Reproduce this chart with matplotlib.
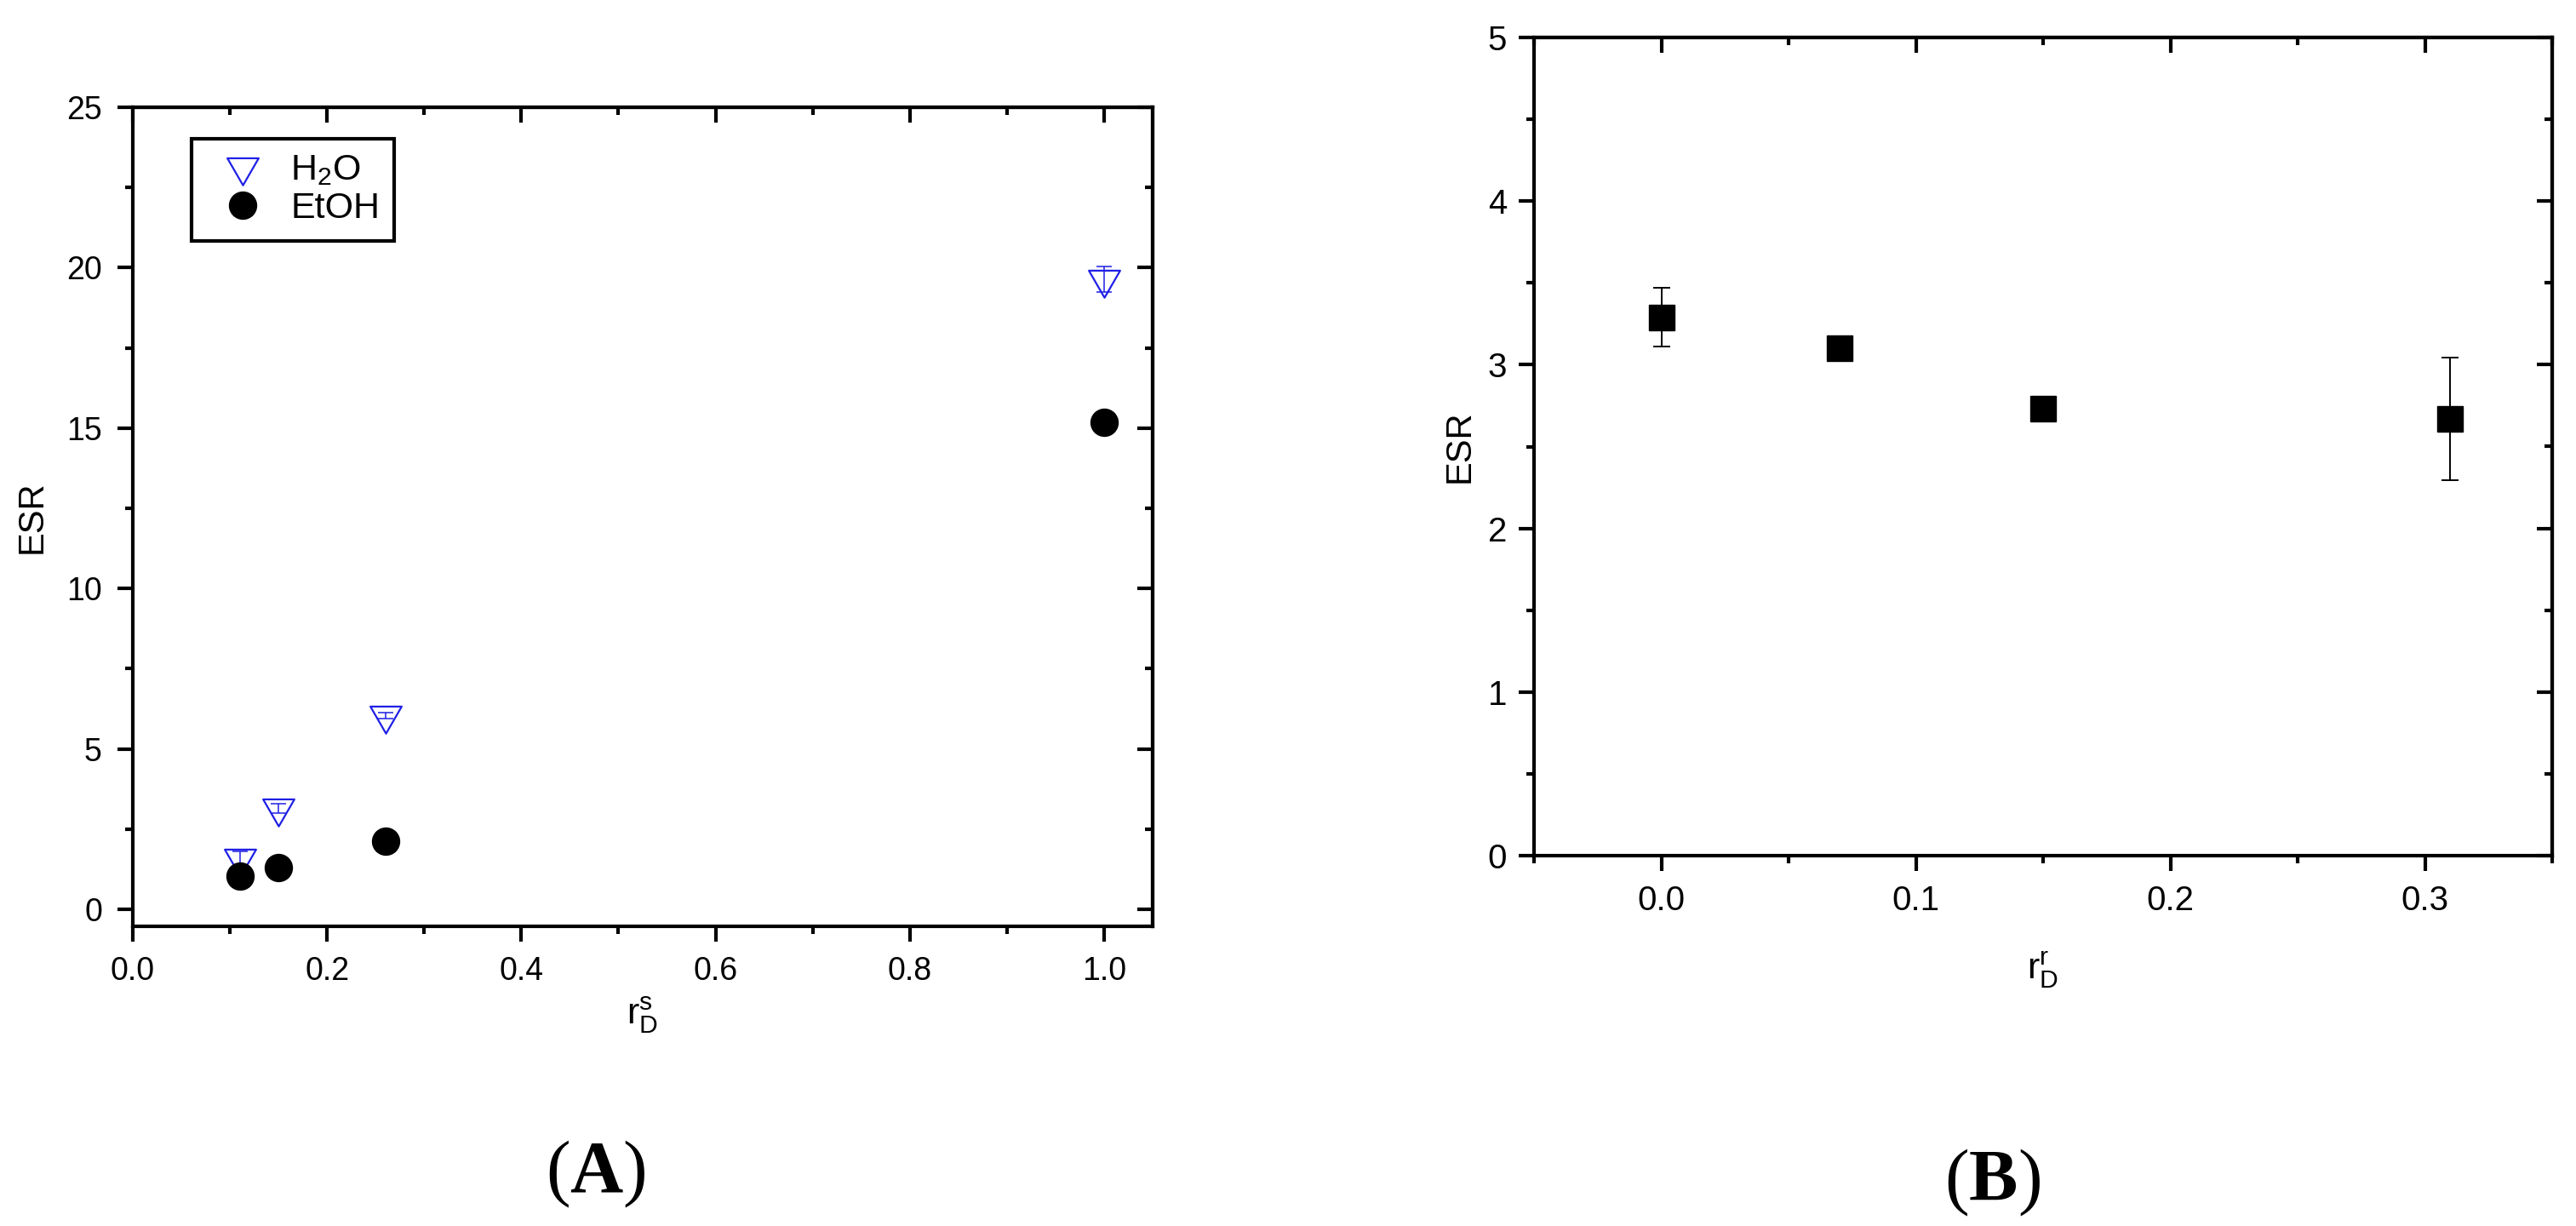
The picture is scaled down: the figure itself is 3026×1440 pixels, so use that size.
import matplotlib
matplotlib.use('Agg')
import matplotlib.pyplot as plt
from matplotlib.ticker import MultipleLocator, NullFormatter, FormatStrFormatter
from matplotlib.path import Path

plt.rcParams['font.family'] = ['Liberation Sans', 'DejaVu Sans']
plt.rcParams['mathtext.fontset'] = 'custom'
plt.rcParams['mathtext.rm'] = 'Liberation Sans'
plt.rcParams['mathtext.it'] = 'Liberation Sans:italic'
plt.rcParams['mathtext.bf'] = 'Liberation Serif:bold'

# ---------------- data ----------------
# Panel A
rds = [0.11, 0.15, 0.26, 1.0]
esr_h2o = [1.58, 3.15, 6.04, 19.63]
err_h2o = [0.22, 0.15, 0.10, 0.40]
esr_etoh = [1.04, 1.31, 2.12, 15.18]
err_etoh = [0.05, 0.05, 0.05, 0.10]
legend_labels = ['H$_\\mathrm{2}$O', 'EtOH']

# Panel B
rdr = [0.0, 0.07, 0.15, 0.31]
esr_b = [3.29, 3.10, 2.73, 2.67]
err_b = [0.18, 0.04, 0.02, 0.375]

W, H = 3026, 1440
fig = plt.figure(figsize=(W / 100, H / 100), dpi=100)

def frac(l, t, r, b):
    return [l / W, 1 - b / H, (r - l) / W, (b - t) / H]

axA = fig.add_axes(frac(156, 126, 1354, 1088))
axB = fig.add_axes(frac(1802, 44, 2998, 1005))

tri = Path([(-1, 0.5774), (1, 0.5774), (0, -1.1547), (-1, 0.5774)],
           [Path.MOVETO, Path.LINETO, Path.LINETO, Path.CLOSEPOLY])
blue = '#1f1fe6'

# ---- Panel A ----
axA.errorbar(rds, esr_h2o, yerr=err_h2o, fmt='none', ecolor=blue, elinewidth=1.1,
             capsize=6.5, capthick=1.1, zorder=3)
hA, = axA.plot(rds, esr_h2o, linestyle='none', marker=tri, markersize=30.5,
               markerfacecolor='none', markeredgecolor=blue, markeredgewidth=1.6, zorder=4)
axA.errorbar(rds, esr_etoh, yerr=err_etoh, fmt='none', ecolor='black', elinewidth=1.1,
             capsize=6.5, capthick=1.1, zorder=5)
hB, = axA.plot(rds, esr_etoh, linestyle='none', marker='o', markersize=23,
               markerfacecolor='black', markeredgecolor='black', zorder=6)

axA.set_xlim(0, 1.05)
axA.set_ylim(-0.53, 25)

# ---- Panel B ----
axB.errorbar(rdr, esr_b, yerr=err_b, fmt='s', color='black', markersize=21,
             ecolor='black', elinewidth=1.4, capsize=7.5, capthick=1.4, zorder=4)
axB.set_xlim(-0.05, 0.35)
axB.set_ylim(0, 5)

def style(ax, xmaj, xmin, ymaj, ymin, fs, xpad, ypad, xfmt, yfmt):
    for s in ax.spines.values():
        s.set_linewidth(3.0)
    ax.xaxis.set_major_locator(MultipleLocator(xmaj))
    ax.xaxis.set_minor_locator(MultipleLocator(xmin))
    ax.yaxis.set_major_locator(MultipleLocator(ymaj))
    ax.yaxis.set_minor_locator(MultipleLocator(ymin))
    ax.xaxis.set_major_formatter(FormatStrFormatter(xfmt))
    ax.yaxis.set_major_formatter(FormatStrFormatter(yfmt))
    ax.tick_params(which='major', direction='out', length=13, width=3.0, labelsize=fs)
    ax.tick_params(which='minor', direction='out', length=6.5, width=3.0)
    ax.tick_params(axis='x', which='major', pad=xpad)
    ax.tick_params(axis='y', which='major', pad=ypad)
    top = ax.secondary_xaxis('top')
    right = ax.secondary_yaxis('right')
    for sec, axis in ((top, top.xaxis), (right, right.yaxis)):
        axis.set_major_locator(MultipleLocator(xmaj if sec is top else ymaj))
        axis.set_minor_locator(MultipleLocator(xmin if sec is top else ymin))
        axis.set_major_formatter(NullFormatter())
        sec.tick_params(which='major', direction='in', length=13, width=3.0)
        sec.tick_params(which='minor', direction='in', length=6.5, width=3.0)
        for s in sec.spines.values():
            s.set_linewidth(3.0)

style(axA, 0.2, 0.1, 5, 2.5, 27, 12, 13, '%.1f', '%d')
style(axB, 0.1, 0.05, 1, 0.5, 29, 11.5, 10, '%.1f', '%d')

# labels
axA.set_ylabel('ESR', fontsize=30)
axA.yaxis.set_label_coords(-0.082, 0.5)
axA.set_xlabel('$\\mathrm{r}_\\mathrm{D}^\\mathrm{s}$', fontsize=31)
axA.xaxis.set_label_coords(0.5, -0.083)

axB.set_ylabel('ESR', fontsize=30)
axB.yaxis.set_label_coords(-0.056, 0.5)
axB.set_xlabel('$\\mathrm{r}_\\mathrm{D}^\\mathrm{r}$', fontsize=31)
axB.xaxis.set_label_coords(0.5, -0.1145)

leg = axA.legend([hA, hB], legend_labels, loc='upper left',
                 bbox_to_anchor=(0.0576, 0.9615), fontsize=31, frameon=True,
                 fancybox=False, edgecolor='black', framealpha=1,
                 borderpad=0.4, labelspacing=0.12, handlelength=2.0,
                 handletextpad=0.3, borderaxespad=0.0)
leg.get_frame().set_linewidth(3.0)

# panel letters
fig.text(700 / W, 1 - 1400 / H, '($\\mathbf{A}$)', ha='center', va='baseline',
         fontsize=62, family='Liberation Serif')
fig.text(2340 / W, 1 - 1410 / H, '($\\mathbf{B}$)', ha='center', va='baseline',
         fontsize=62, family='Liberation Serif')

fig.savefig('out.png', dpi=100, facecolor='white')
